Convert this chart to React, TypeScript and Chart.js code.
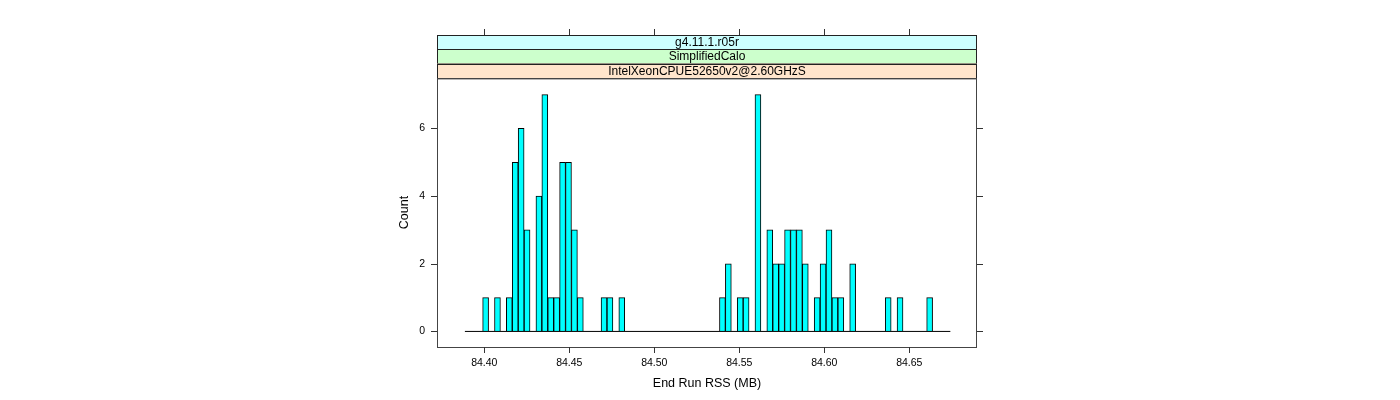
import React, { useEffect, useRef } from "react";
import { Chart, registerables } from "chart.js";

Chart.register(...registerables);

// Histogram bins (End Run RSS, MB)
const BIN_START = 84.38859;
const BIN_WIDTH = 0.0034824;
const COUNTS = [
  0, 0, 0, 1, 0, 1, 0, 1, 5, 6,
  3, 0, 4, 7, 1, 1, 5, 5, 3, 1,
  0, 0, 0, 1, 1, 0, 1, 0, 0, 0,
  0, 0, 0, 0, 0, 0, 0, 0, 0, 0,
  0, 0, 0, 1, 2, 0, 1, 1, 0, 7,
  0, 3, 2, 2, 3, 3, 3, 2, 0, 1,
  2, 3, 1, 1, 0, 2, 0, 0, 0, 0,
  0, 1, 0, 1, 0, 0, 0, 0, 1, 0,
  0, 0,
];
const X_TICKS = [84.4, 84.45, 84.5, 84.55, 84.6, 84.65];
const Y_TICKS = [0, 2, 4, 6];
const X_MIN = 84.37218;
const X_MAX = 84.68982;
const Y_MIN = -0.46;
const Y_MAX = 7.49;
const STRIP_LABELS = ["g4.11.1.r05r", "SimplifiedCalo", "IntelXeonCPUE52650v2@2.60GHzS"];
const STRIP_COLORS = ["#ccffff", "#ccffcc", "#ffe5cc"];
const X_TITLE = "End Run RSS (MB)";
const Y_TITLE = "Count";

const FONT = "'Liberation Sans', Arial, Helvetica, sans-serif";

const latticePlugin = {
  id: "lattice",
  afterDraw(chart: any) {
    const { ctx, chartArea: ca, scales } = chart;
    const xs = scales.x;
    const ys = scales.y;
    const stripTop = 35;
    const stripH = (ca.top - stripTop) / STRIP_LABELS.length;
    ctx.save();
    // strips
    STRIP_LABELS.forEach((lab, i) => {
      const t = stripTop + i * stripH;
      ctx.fillStyle = STRIP_COLORS[i];
      ctx.fillRect(ca.left, t, ca.right - ca.left, stripH);
      ctx.strokeStyle = "#222";
      ctx.lineWidth = 1;
      ctx.strokeRect(ca.left + 0.5, Math.round(t) + 0.5, ca.right - ca.left - 1, stripH);
      ctx.fillStyle = "#000";
      ctx.font = `12px ${FONT}`;
      ctx.textAlign = "center";
      ctx.textBaseline = "middle";
      ctx.fillText(lab, (ca.left + ca.right) / 2, t + stripH / 2 + 0.5);
    });
    // panel border
    ctx.strokeStyle = "#444";
    ctx.lineWidth = 1;
    ctx.strokeRect(ca.left + 0.5, ca.top + 0.5, ca.right - ca.left - 1, ca.bottom - ca.top);
    // ticks on all four sides
    ctx.strokeStyle = "#333";
    ctx.beginPath();
    X_TICKS.forEach((v) => {
      const px = Math.round(xs.getPixelForValue(v)) + 0.5;
      ctx.moveTo(px, stripTop - 6);
      ctx.lineTo(px, stripTop);
      ctx.moveTo(px, ca.bottom);
      ctx.lineTo(px, ca.bottom + 6);
    });
    Y_TICKS.forEach((v) => {
      const py = Math.round(ys.getPixelForValue(v)) + 0.5;
      ctx.moveTo(ca.right, py);
      ctx.lineTo(ca.right + 6, py);
      ctx.moveTo(ca.left - 6, py);
      ctx.lineTo(ca.left, py);
    });
    ctx.stroke();
    ctx.restore();
  },
};

export default function App() {
  const ref = useRef<HTMLCanvasElement | null>(null);

  useEffect(() => {
    if (!ref.current) return;
    const barData = COUNTS.map((c, i) => ({ x: BIN_START + (i + 0.5) * BIN_WIDTH, y: c }));
    const baseData = [
      { x: BIN_START, y: 0 },
      { x: BIN_START + COUNTS.length * BIN_WIDTH, y: 0 },
    ];
    const chart = new Chart(ref.current, {
      type: "bar",
      data: {
        datasets: [
          {
            type: "line",
            data: baseData,
            borderColor: "#000",
            borderWidth: 1,
            pointRadius: 0,
            order: 0,
          } as any,
          {
            type: "bar",
            data: barData,
            backgroundColor: "#00ffff",
            borderColor: "#000",
            borderWidth: 1,
            barPercentage: 1,
            categoryPercentage: 1,
            order: 1,
          } as any,
        ],
      },
      options: {
        responsive: false,
        animation: false,
        layout: { padding: { top: 78, right: 423, left: 0, bottom: 0 } },
        plugins: {
          legend: { display: false },
          tooltip: { enabled: false },
          title: { display: false },
        },
        scales: {
          x: {
            type: "linear",
            min: X_MIN,
            max: X_MAX,
            offset: false,
            afterBuildTicks: (s: any) => {
              s.ticks = X_TICKS.map((v) => ({ value: v }));
            },
            afterFit: (s: any) => {
              s.height = 53;
            },
            ticks: {
              autoSkip: false,
              maxRotation: 0,
              padding: 4,
              color: "#000",
              font: { family: FONT, size: 10.5 },
              callback: (v: any) => Number(v).toFixed(2),
            },
            grid: { offset: false, drawOnChartArea: false, drawTicks: true, tickLength: 6, color: "rgba(0,0,0,0)" },
            border: { display: false },
            title: {
              display: true,
              text: X_TITLE,
              color: "#000",
              font: { family: FONT, size: 12.5 },
              padding: { top: 0, bottom: 9 },
            },
          },
          y: {
            type: "linear",
            min: Y_MIN,
            max: Y_MAX,
            afterBuildTicks: (s: any) => {
              s.ticks = Y_TICKS.map((v) => ({ value: v }));
            },
            afterFit: (s: any) => {
              s.width = 437;
            },
            ticks: {
              padding: 6,
              color: "#000",
              font: { family: FONT, size: 10.5 },
            },
            grid: { offset: false, drawOnChartArea: false, drawTicks: true, tickLength: 6, color: "rgba(0,0,0,0)" },
            border: { display: false },
            title: {
              display: true,
              text: Y_TITLE,
              color: "#000",
              font: { family: FONT, size: 12.5 },
              padding: { top: 397, bottom: 0 },
            },
          },
        },
      },
      plugins: [latticePlugin],
    });
    return () => chart.destroy();
  }, []);

  return (
    <canvas
      ref={ref}
      width={1400}
      height={400}
      style={{ position: "absolute", left: 0, top: 0, width: 1400, height: 400, display: "block", background: "#fff" }}
    />
  );
}
